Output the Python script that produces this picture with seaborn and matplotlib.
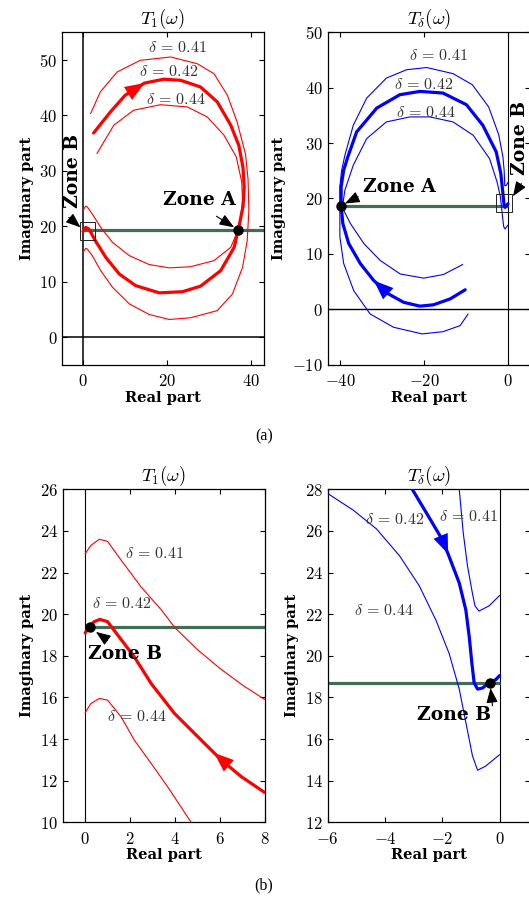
import numpy as np
import seaborn as sns
import matplotlib
matplotlib.use('Agg')
import matplotlib.pyplot as plt
from matplotlib.patches import Rectangle

# ---- (a) T1(w), whole view ----
t1_041_x = [1.8, 4.1, 8.1, 13.6, 20.8, 27.1, 31.1, 34.3, 36.6, 38.6, 39.2, 39.4, 39.0, 37.9, 35.5,
            31.9, 25.5, 20.5, 15.7, 11.0, 7.0, 4.2, 2.2, 1.0, 0.6, 0.0]
t1_041_y = [40.3, 44.2, 47.8, 49.9, 50.5, 49.3, 47.5, 43.6, 38.8, 33.0, 28.5, 22.8, 17.4, 12.6, 7.8,
            4.8, 3.5, 3.2, 4.1, 6.0, 9.0, 12.0, 14.7, 15.9, 16.0, 15.3]
t1_042_x = [2.5, 6.5, 10.0, 14.6, 19.2, 23.2, 27.9, 31.9, 35.1, 37.0, 38.0, 38.3, 38.0, 37.0, 35.9,
            32.7, 27.9, 23.6, 18.1, 12.5, 8.6, 5.4, 3.0, 1.4, 0.65, 0.0]
t1_042_y = [36.8, 40.6, 43.6, 45.8, 46.5, 46.3, 45.1, 42.4, 38.2, 34.6, 30.6, 27.0, 23.5, 19.8, 16.2,
            12.0, 9.2, 8.2, 8.0, 9.3, 11.4, 14.4, 17.3, 19.5, 19.8, 19.1]
t1_044_x = [3.3, 7.3, 12.0, 18.4, 24.8, 29.5, 33.5, 36.4, 37.7, 37.9, 37.2, 35.1, 31.1, 25.5,
            20.5, 15.7, 11.0, 7.0, 4.2, 2.2, 1.0, 0.6, 0.0]
t1_044_y = [33.1, 38.2, 40.9, 41.9, 41.5, 39.7, 36.4, 32.5, 28.0, 24.6, 20.0, 16.2, 13.8, 12.7,
            12.5, 13.1, 14.7, 17.1, 19.8, 22.2, 23.5, 23.6, 22.9]

# ---- (a) Td(w), whole view ----
td_041_x = [-9.5, -11.4, -15.5, -20.5, -27.3, -32.9, -36.8, -39.2, -40.1, -40.1, -40.1, -39.7, -38.9,
            -36.9, -33.7, -29.0, -24.2, -19.4, -13.1, -8.5, -4.6, -2.2, -1.2, -0.9, -0.75, -0.35, 0.0]
td_041_y = [-0.8, -2.9, -4.0, -4.4, -3.2, -0.8, 3.4, 8.3, 13.1, 17.9, 22.1, 25.0, 27.8,
            33.2, 38.1, 41.7, 43.2, 43.6, 42.5, 40.5, 36.5, 31.5, 27.5, 25.0, 22.3, 22.4, 22.9]
td_042_x = [-10.2, -13.8, -17.8, -21.0, -24.9, -28.5, -32.0, -35.2, -38.0, -39.4, -39.8, -39.8, -39.2,
            -38.2, -36.1, -31.3, -25.8, -21.0, -15.5, -9.9, -6.0, -2.8, -1.7, -1.2, -0.9, -0.7,
            -0.35, 0.0]
td_042_y = [3.55, 1.9, 0.84, 0.6, 1.3, 2.8, 5.2, 8.25, 11.9, 15.5, 18.8, 22.1, 25.1,
            27.5, 32.0, 36.3, 38.7, 39.3, 39.0, 36.9, 33.2, 28.4, 24.5, 20.9, 18.7, 18.4,
            18.7, 19.05]
td_044_x = [-10.8, -15.4, -20.1, -25.7, -30.5, -34.4, -37.6, -39.2, -39.3, -38.9, -36.9, -33.7, -29.0,
            -23.4, -18.6, -13.1, -8.3, -4.4, -2.6, -1.8, -1.2, -1.0, -0.7, 0.0]
td_044_y = [8.1, 6.3, 5.65, 6.4, 8.85, 11.9, 15.5, 17.9, 19.5, 21.5, 26.0, 30.8, 33.8,
            34.7, 34.7, 33.8, 31.4, 27.2, 23.0, 20.3, 16.1, 14.9, 14.5, 15.2]

# ---- (b) T1(w), zone B ----
z1_041_x = [0.0, 0.25, 0.63, 1.0, 1.6, 2.5, 3.4, 4.0, 5.0, 6.0, 7.0, 8.0]
z1_041_y = [22.9, 23.3, 23.6, 23.5, 22.6, 21.3, 20.2, 19.35, 18.3, 17.4, 16.6, 15.9]
z1_042_x = [0.0, 0.18, 0.4, 0.66, 1.0, 1.45, 2.19, 2.94, 3.98, 5.17, 5.75, 6.07, 6.96, 8.0]
z1_042_y = [19.1, 19.4, 19.64, 19.75, 19.64, 19.0, 17.95, 16.67, 15.23, 13.95, 13.33, 12.99, 12.19, 11.43]
z1_044_x = [0.0, 0.25, 0.63, 1.0, 1.6, 2.19, 2.94, 3.68, 4.72]
z1_044_y = [15.26, 15.7, 15.95, 15.87, 15.07, 13.95, 12.83, 11.7, 10.0]

# ---- (b) Td(w), zone B ----
zd_041_x = [-1.41, -1.27, -1.12, -0.95, -0.86, -0.72, -0.37, 0.0]
zd_041_y = [28.0, 25.9, 24.3, 23.0, 22.4, 22.15, 22.4, 22.9]
zd_042_x = [-3.05, -2.57, -2.01, -1.80, -1.41, -1.18, -1.06, -0.97, -0.89, -0.77, -0.6, -0.37, -0.14, 0.0]
zd_042_y = [28.0, 26.9, 25.6, 24.9, 23.5, 22.2, 20.9, 19.65, 18.7, 18.4, 18.45, 18.7, 18.85, 19.05]
zd_044_x = [-6.0, -5.11, -4.3, -3.49, -2.8, -2.22, -1.76, -1.41, -1.18, -0.95, -0.77, -0.49, 0.0]
zd_044_y = [27.8, 27.0, 26.1, 24.8, 23.35, 21.7, 20.1, 18.4, 16.8, 15.2, 14.5, 14.7, 15.25]

# zone points (crossing with the green line)
zone_a_t1 = (36.9, 19.4)
zone_a_td = (-39.8, 18.7)
zone_b_t1 = (0.21, 19.4)
zone_b_td = (-0.34, 18.7)

RED = '#ff0000'
BLUE = '#0000ff'
GREEN = '#3f6e55'
THIN, THICK = 0.8, 2.3
BOLD = 'DejaVu Serif'

sns.set_theme(style='ticks')
plt.rcParams.update({
    'font.family': 'serif',
    'font.serif': ['cmr10'],
    'mathtext.fontset': 'cm',
    'axes.formatter.use_mathtext': True,
    'axes.linewidth': 0.9,
    'axes.edgecolor': 'black',
    'text.color': 'black',
    'axes.labelcolor': 'black',
    'xtick.color': 'black', 'ytick.color': 'black',
    'xtick.direction': 'in', 'ytick.direction': 'in',
    'xtick.top': True, 'ytick.right': True,
    'xtick.major.size': 3.5, 'ytick.major.size': 3.5,
    'xtick.major.width': 0.8, 'ytick.major.width': 0.8,
    'xtick.major.pad': 6, 'ytick.major.pad': 3.5,
    'xtick.labelsize': 12, 'ytick.labelsize': 12,
})

fig = plt.figure(figsize=(5.29, 9.07), dpi=100)
ax_tl = fig.add_axes([0.1172, 0.5976, 0.3819, 0.3671])
ax_tr = fig.add_axes([0.6195, 0.5976, 0.3819, 0.3671])
ax_bl = fig.add_axes([0.1185, 0.0934, 0.3819, 0.3671])
ax_br = fig.add_axes([0.6195, 0.0934, 0.3819, 0.3671])


def curve(ax, xs, ys, color, lw):
    sns.lineplot(x=xs, y=ys, sort=False, estimator=None, color=color, linewidth=lw, ax=ax, zorder=3)


def head(ax, xs, ys, i_from, i_to, color):
    # filled arrow head on a curve, pointing along the travel direction
    ax.annotate('', xy=(xs[i_to], ys[i_to]), xytext=(xs[i_from], ys[i_from]),
                arrowprops=dict(arrowstyle='-|>,head_length=14,head_width=5.5', mutation_scale=1,
                                color=color, lw=0, shrinkA=0, shrinkB=0), zorder=4)


def pointer(ax, tail, tip):
    ax.annotate('', xy=tip, xytext=tail,
                arrowprops=dict(arrowstyle='-|>,head_length=9,head_width=3.5', mutation_scale=1,
                                color='black', lw=0.8, shrinkA=0, shrinkB=0), zorder=6)


def dot(ax, p):
    ax.plot(p[0], p[1], 'o', color='black', ms=6.5, zorder=5)


def delta_label(ax, x, y, txt):
    ax.text(x, y, r'$\delta\,=\,%s$' % txt, fontsize=11.5, color='#333333', ha='center', va='center',
            zorder=6)


def zone_label(ax, x, y, txt, rot=0):
    ax.text(x, y, txt, fontsize=13.5, fontfamily=BOLD, fontweight='bold', ha='center', va='center',
            rotation=rot, zorder=6)


def finish(ax, xlim, ylim, xticks, yticks, title):
    ax.set_xlim(*xlim)
    ax.set_ylim(*ylim)
    ax.set_xticks(xticks)
    ax.set_yticks(yticks)
    ax.set_title(title, fontsize=13.5, pad=6)
    ax.set_xlabel('Real part', fontfamily=BOLD, fontweight='bold', fontsize=10.5, labelpad=1)
    ax.set_ylabel('Imaginary part', fontfamily=BOLD, fontweight='bold', fontsize=10.5, labelpad=4)


# ---------- top left: T1 ----------
ax = ax_tl
ax.axvline(0, color='black', lw=1.1, zorder=1)
ax.axhline(0, color='black', lw=1.1, zorder=1)
ax.hlines(zone_a_t1[1], 0, 43, color=GREEN, lw=2.3, zorder=2)
curve(ax, t1_041_x, t1_041_y, RED, THIN)
curve(ax, t1_042_x, t1_042_y, RED, THICK)
curve(ax, t1_044_x, t1_044_y, RED, THIN)
head(ax, t1_042_x, t1_042_y, 2, 3, RED)
dot(ax, zone_a_t1)
ax.add_patch(Rectangle((-0.8, 17.6), 3.7, 3.1, fill=False, ec='#222222', lw=0.7, zorder=6))
zone_label(ax, 27.7, 24.8, 'Zone A')
pointer(ax, (31.7, 21.8), (35.9, 19.8))
zone_label(ax, -2.4, 30.0, 'Zone B', rot=90)
pointer(ax, (-3.4, 21.6), (-0.6, 19.8))
delta_label(ax, 22.4, 52.3, '0.41')
delta_label(ax, 20.4, 47.8, '0.42')
delta_label(ax, 22.0, 42.8, '0.44')
finish(ax, (-5, 43), (-5, 55), [0, 20, 40], [0, 10, 20, 30, 40, 50], r'$T_1(\omega)$')

# ---------- top right: Td ----------
ax = ax_tr
ax.axvline(0, color='black', lw=0.8, zorder=1)
ax.axhline(0, color='black', lw=1.0, zorder=1)
ax.hlines(zone_a_td[1], zone_a_td[0], 0, color=GREEN, lw=2.3, zorder=2)
curve(ax, td_041_x, td_041_y, BLUE, THIN)
curve(ax, td_042_x, td_042_y, BLUE, THICK)
curve(ax, td_044_x, td_044_y, BLUE, THIN)
head(ax, td_042_x, td_042_y, 5, 6, BLUE)
dot(ax, zone_a_td)
ax.add_patch(Rectangle((-2.8, 17.5), 3.8, 3.3, fill=False, ec='#222222', lw=0.7, zorder=6))
zone_label(ax, -25.8, 22.1, 'Zone A')
pointer(ax, (-35.7, 20.3), (-38.9, 19.1))
zone_label(ax, 2.9, 30.9, 'Zone B', rot=90)
pointer(ax, (3.2, 22.7), (1.2, 20.4))
delta_label(ax, -16.5, 45.7, '0.41')
delta_label(ax, -20.1, 40.5, '0.42')
delta_label(ax, -19.7, 35.5, '0.44')
finish(ax, (-43, 5.2), (-10, 50), [-40, -20, 0], [-10, 0, 10, 20, 30, 40, 50], r'$T_\delta(\omega)$')

# ---------- bottom left: T1 zone B ----------
ax = ax_bl
ax.axvline(0, color='black', lw=0.8, zorder=1)
ax.hlines(zone_b_t1[1], zone_b_t1[0], 8, color=GREEN, lw=2.3, zorder=2)
curve(ax, z1_041_x, z1_041_y, RED, THIN)
curve(ax, z1_042_x, z1_042_y, RED, THICK)
curve(ax, z1_044_x, z1_044_y, RED, THIN)
head(ax, z1_042_x, z1_042_y, 12, 10, RED)
dot(ax, zone_b_t1)
zone_label(ax, 1.77, 18.1, 'Zone B')
pointer(ax, (1.0, 18.75), (0.48, 19.15))
delta_label(ax, 3.1, 22.9, '0.41')
delta_label(ax, 1.62, 20.5, '0.42')
delta_label(ax, 2.3, 15.1, '0.44')
finish(ax, (-1, 8), (10, 26), [0, 2, 4, 6, 8], list(range(10, 27, 2)), r'$T_1(\omega)$')

# ---------- bottom right: Td zone B ----------
ax = ax_br
ax.axvline(0, color='black', lw=0.8, zorder=1)
ax.hlines(zone_b_td[1], -6, 0, color=GREEN, lw=2.3, zorder=2)
curve(ax, zd_041_x, zd_041_y, BLUE, THIN)
curve(ax, zd_042_x, zd_042_y, BLUE, THICK)
curve(ax, zd_044_x, zd_044_y, BLUE, THIN)
head(ax, zd_042_x, zd_042_y, 2, 3, BLUE)
dot(ax, zone_b_td)
zone_label(ax, -1.58, 17.15, 'Zone B')
pointer(ax, (-0.25, 17.6), (-0.32, 18.45))
delta_label(ax, -3.66, 26.55, '0.42')
delta_label(ax, -1.09, 26.7, '0.41')
delta_label(ax, -4.05, 22.2, '0.44')
finish(ax, (-6, 1.05), (12, 28), [-6, -4, -2, 0], list(range(12, 29, 2)), r'$T_\delta(\omega)$')

for a in (ax_tl, ax_tr, ax_bl, ax_br):
    if a.get_legend() is not None:
        a.get_legend().remove()

fig.text(0.499, 0.519, '(a)', ha='center', va='center', fontfamily='Liberation Serif', fontsize=11.5)
fig.text(0.499, 0.0243, '(b)', ha='center', va='center', fontfamily='Liberation Serif', fontsize=11.5)

fig.savefig('out.png', dpi=100)
